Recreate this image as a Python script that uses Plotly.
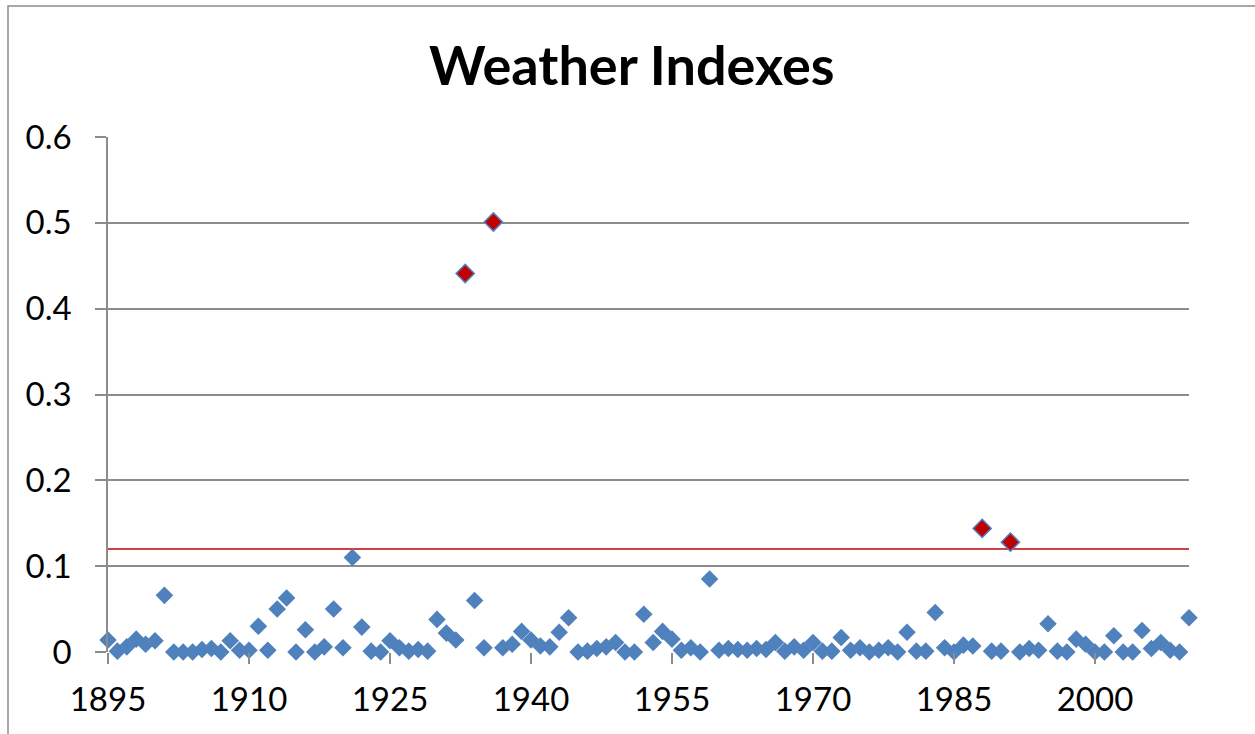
import plotly.graph_objects as go

years = list(range(1895, 2011))
index_values = [
    0.014, 0.001, 0.006, 0.015, 0.009, 0.013, 0.066, 0.000, 0.000, 0.000,  # 1895-1904
    0.003, 0.004, 0.000, 0.013, 0.002, 0.002, 0.030, 0.002, 0.050, 0.063,  # 1905-1914
    0.000, 0.026, 0.000, 0.006, 0.050, 0.005, 0.110, 0.029, 0.001, 0.000,  # 1915-1924
    0.013, 0.005, 0.001, 0.003, 0.001, 0.038, 0.022, 0.014, 0.441, 0.060,  # 1925-1934
    0.005, 0.501, 0.005, 0.009, 0.024, 0.014, 0.007, 0.006, 0.023, 0.040,  # 1935-1944
    0.000, 0.001, 0.004, 0.006, 0.011, 0.000, 0.000, 0.044, 0.011, 0.024,  # 1945-1954
    0.015, 0.002, 0.005, 0.000, 0.085, 0.002, 0.004, 0.003, 0.002, 0.004,  # 1955-1964
    0.003, 0.011, 0.001, 0.006, 0.002, 0.011, 0.001, 0.001, 0.017, 0.002,  # 1965-1974
    0.005, 0.000, 0.002, 0.005, 0.000, 0.023, 0.001, 0.001, 0.046, 0.005,  # 1975-1984
    0.000, 0.008, 0.007, 0.144, 0.001, 0.001, 0.128, 0.000, 0.004, 0.002,  # 1985-1994
    0.033, 0.001, 0.000, 0.015, 0.009, 0.000, 0.000, 0.019, 0.000, 0.000,  # 1995-2004
    0.025, 0.004, 0.011, 0.002, 0.000, 0.040,                              # 2005-2010
]
threshold = 0.12
x_tick_labels = [1895, 1910, 1925, 1940, 1955, 1970, 1985, 2000]
y_tick_values = [0, 0.1, 0.2, 0.3, 0.4, 0.5, 0.6]

out_years = [y for y, v in zip(years, index_values) if v > threshold]
out_values = [v for v in index_values if v > threshold]

BLUE = "#4F81BD"
RED = "#C00000"
GRID = "#8C8C8C"

fig = go.Figure()
fig.add_trace(go.Scatter(
    x=[years[0], years[-1]], y=[threshold, threshold], mode="lines",
    line=dict(color=RED, width=1.6), hoverinfo="skip", showlegend=False,
))
fig.add_trace(go.Scatter(
    x=years, y=index_values, mode="markers",
    marker=dict(symbol="diamond", size=13.5, color=BLUE, line=dict(width=0)),
    cliponaxis=False, showlegend=False,
))
fig.add_trace(go.Scatter(
    x=out_years, y=out_values, mode="markers",
    marker=dict(symbol="diamond", size=14, color=RED, line=dict(width=1.5, color=BLUE)),
    cliponaxis=False, showlegend=False,
))

W, H = 1255, 734
L, T = 108, 137
R, B = 66, 82
pw, ph = W - L - R, H - T - B

fig.update_layout(
    width=W, height=H,
    margin=dict(l=L, r=R, t=T, b=B, pad=0),
    paper_bgcolor="white", plot_bgcolor="white",
    font=dict(family="Lato, Open Sans, sans-serif", color="black"),
    xaxis=dict(
        range=[years[0], years[-1]], tickmode="array", tickvals=x_tick_labels,
        ticktext=[str(t) for t in x_tick_labels],
        ticks="outside", ticklen=11, tickwidth=1.5, tickcolor=GRID,
        showgrid=False, zeroline=False, showline=False,
        tickfont=dict(size=33, family="Lato", color="black"),
        ticklabelstandoff=7,
    ),
    yaxis=dict(
        range=[0, 0.6], tickmode="array", tickvals=y_tick_values,
        ticktext=["0", "0.1", "0.2", "0.3", "0.4", "0.5", "0.6"],
        ticks="outside", ticklen=11, tickwidth=1.5, tickcolor=GRID,
        showgrid=True, gridcolor=GRID, gridwidth=1.5,
        zeroline=False, showline=True, linecolor=GRID, linewidth=1.5,
        tickfont=dict(size=33, family="Lato", color="black"),
        ticklabelstandoff=17,
    ),
    shapes=[dict(
        type="rect", xref="paper", yref="paper",
        x0=(8 - L) / pw, x1=(W + 20 - L) / pw,
        y0=-(B + 20) / ph, y1=(H - 6 - B) / ph,
        line=dict(color="#8C8C8C", width=1.5), fillcolor="rgba(0,0,0,0)", layer="below",
    )],
    annotations=[dict(
        text="<b>Weather Indexes</b>", xref="paper", yref="paper",
        x=(632 - L) / pw, y=(H - 64 - B) / ph, xanchor="center", yanchor="middle",
        showarrow=False, font=dict(size=54, family="Lato", color="black"),
    )],
)

fig.write_html(
    "out.html",
    config={"displayModeBar": False},
    post_script="document.body.style.margin='0px'; document.body.style.overflow='hidden';",
)
